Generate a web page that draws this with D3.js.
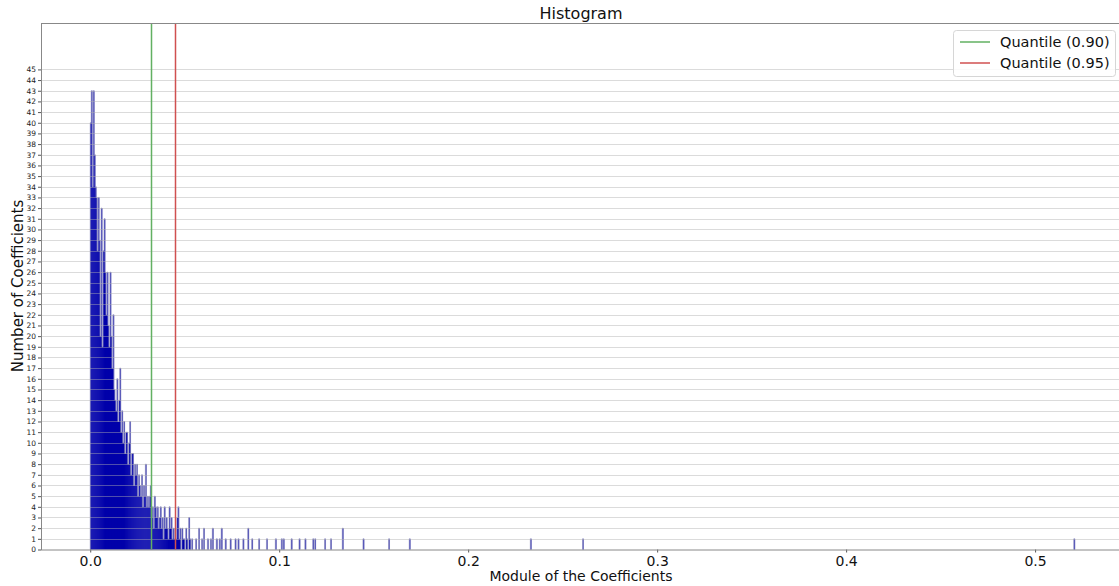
<!DOCTYPE html>
<html><head><meta charset="utf-8">
<script src="https://cdn.jsdelivr.net/npm/d3@7"></script>
<style>
html,body{margin:0;padding:0;background:#fff;}
svg{display:block;font-family:"DejaVu Sans",sans-serif;}
</style></head>
<body><svg id="c" width="1119" height="586"></svg>
<script>
// ---- data ----
const binWidth = 0.000521;          // histogram bin width (1000 bins over [0, 0.521])
const nBins = 1000;
const headCounts = [
  40, 43, 34, 43, 37, 34, 33, 28, 33, 29,
  20, 32, 19, 28, 31, 26, 22, 26, 21, 19,
  26, 20, 17, 22, 15, 14, 13, 16, 12, 14,
  17, 11, 13, 10, 12, 9, 11, 11, 8, 10,
  12, 7, 9, 9, 6, 8, 7, 8, 5, 7,
  6, 5, 7, 4, 6, 5, 8, 4, 5, 4,
  5, 6, 3, 4, 2, 5, 4, 3, 4, 2,
  3, 4, 2, 3, 1, 4, 2, 3, 2, 1,
  4, 2, 3, 1, 2, 1, 2, 1, 3, 4,
  1, 2, 0, 2, 1, 1, 0, 2, 1, 0,
  3, 1, 0, 1, 0
];
const tailBins   = [107,110,113,115,119,122,124,128,131,133,137,142,147,150,155,160,164,171,179,188,194,196,204,212,218,226,228,238,244,256,277,303,324,447,500,999];
const tailCounts = [1,  2,  1,  2,  1,  1,  2,  1,  1,  2,  1,  1,  1,  1,  1,  2,  1,  1,  1,  1,  1,  1,  1,  1,  1,  1,  1,  1,  1,  2,  1,  1,  1,  1,  1,  1];
const quantiles = [0.03245, 0.04516];
const quantileLabels = ["Quantile (0.90)", "Quantile (0.95)"];
const quantileColors = ["#62b062", "#d05050"];
const xTicks = [0.0, 0.1, 0.2, 0.3, 0.4, 0.5];
const yTicks = d3.range(0, 46);

// ---- build bins ----
const counts = new Array(nBins).fill(0);
headCounts.forEach((c, i) => { counts[i] = c; });
tailBins.forEach((b, k) => { counts[b] = tailCounts[k]; });
const bins = counts.map((c, i) => ({i, c})).filter(d => d.c > 0);

const svg = d3.select("#c");
const L = 41, R = 1124, T = 23, B = 549.5;
const x = d3.scaleLinear().domain([-0.02605, 0.54705]).range([L, R]);
const y = d3.scaleLinear().domain([0, 49.35]).range([B, T]);

const plot = svg.append("g");
// bar fills
plot.append("g").selectAll("rect").data(bins).join("rect")
  .attr("x", d => x(d.i * binWidth))
  .attr("width", d => x((d.i + 1) * binWidth) - x(d.i * binWidth) + 0.3)
  .attr("y", d => y(d.c))
  .attr("height", d => y(0) - y(d.c))
  .attr("fill", "#0000aa");

// bar edges (visible outline of each bar)
let p = "";
for (let i = 0; i <= nBins; i++) {
  const prev = i > 0 ? counts[i - 1] : 0;
  const cur = i < nBins ? counts[i] : 0;
  const xi = x(i * binWidth);
  if (prev !== cur) p += `M${xi},${y(prev)}L${xi},${y(cur)}`;
  if (cur > 0) p += `M${xi},${y(cur)}L${x((i + 1) * binWidth)},${y(cur)}`;
}
plot.append("path").attr("d", p).attr("fill", "none")
  .attr("stroke", "#9c9cc4").attr("stroke-opacity", 0.85).attr("stroke-width", 0.8);

// grid (over bars)
plot.append("g").selectAll("line").data(yTicks.filter(v => v > 0)).join("line")
  .attr("x1", L).attr("x2", R)
  .attr("y1", d => Math.round(y(d)) + 0.5).attr("y2", d => Math.round(y(d)) + 0.5)
  .attr("stroke", "#b0b0b0").attr("stroke-opacity", 0.45).attr("stroke-width", 1);

// quantile lines
plot.append("g").selectAll("line").data(quantiles).join("line")
  .attr("x1", d => Math.floor(x(d)) + 0.5).attr("x2", d => Math.floor(x(d)) + 0.5)
  .attr("y1", T).attr("y2", B)
  .attr("stroke", (d, i) => quantileColors[i]).attr("stroke-width", 1.5);

// axes
const yAxis = svg.append("g").attr("transform", `translate(${L},0)`)
  .call(d3.axisLeft(y).tickValues(yTicks).tickSize(3).tickPadding(2).tickFormat(d3.format("d")));
yAxis.select(".domain").remove();
yAxis.selectAll("line").attr("stroke", "#555");
yAxis.selectAll("text").attr("font-size", 7.5).attr("fill", "#222").attr("font-family", "DejaVu Sans");

const xAxis = svg.append("g").attr("transform", `translate(0,${B})`)
  .call(d3.axisBottom(x).tickValues(xTicks).tickSize(3).tickPadding(4).tickFormat(d3.format(".1f")));
xAxis.select(".domain").remove();
xAxis.selectAll("line").attr("stroke", "#555");
xAxis.selectAll("text").attr("font-size", 14).attr("fill", "#111").attr("font-family", "DejaVu Sans");

// spines
svg.append("rect").attr("x", L + 0.5).attr("y", T + 0.5).attr("width", R - L).attr("height", B - T)
  .attr("fill", "none").attr("stroke", "#888").attr("stroke-width", 1);

// title & labels
svg.append("text").attr("x", 581).attr("y", 19).attr("text-anchor", "middle")
  .attr("font-size", 16).attr("fill", "#111").text("Histogram");
svg.append("text").attr("x", 581).attr("y", 581).attr("text-anchor", "middle")
  .attr("font-size", 14).attr("fill", "#111").text("Module of the Coefficients");
svg.append("text").attr("transform", "translate(23,286) rotate(-90)").attr("text-anchor", "middle")
  .attr("font-size", 15).attr("fill", "#111").text("Number of Coefficients");

// legend
const lg = svg.append("g").attr("transform", "translate(953,30)");
lg.append("rect").attr("x", 0.5).attr("y", 0.5).attr("width", 162).attr("height", 46).attr("rx", 3)
  .attr("fill", "#fff").attr("fill-opacity", 0.85).attr("stroke", "#d6d6d6");
quantileLabels.forEach((t, i) => {
  const yy = 12 + i * 21;
  lg.append("line").attr("x1", 7).attr("x2", 37).attr("y1", yy).attr("y2", yy)
    .attr("stroke", quantileColors[i]).attr("stroke-width", 1.5);
  lg.append("text").attr("x", 47).attr("y", yy + 5).attr("font-size", 14.5).attr("fill", "#111").text(t);
});
</script></body></html>
